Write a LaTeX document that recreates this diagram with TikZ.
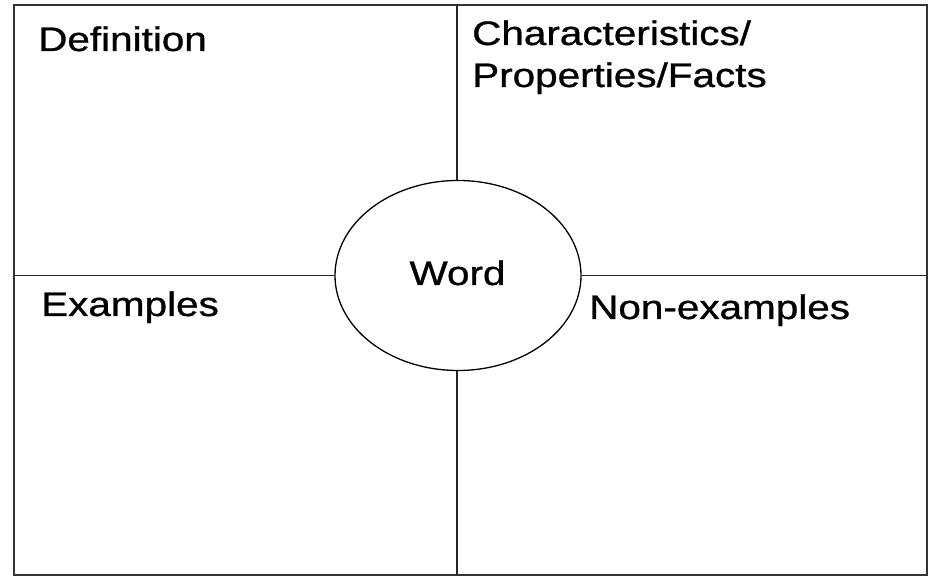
\documentclass[tikz,border=0pt]{standalone}
\usepackage{fontspec}
\setmainfont{Liberation Sans}
\newfontfamily\heavyfont[FakeBold=0.8]{Liberation Sans}
\usetikzlibrary{shapes.geometric}
\tikzset{
  lbl/.style={inner sep=0pt, anchor=base west, font=\heavyfont\fontsize{34}{42}\selectfont},
  frameline/.style={line width=2.6pt, draw=black!80},
  divline/.style={line width=1.8pt, draw=black!85},
  wordoval/.style={ellipse, draw=black, line width=1.3pt, minimum width=246pt, minimum height=190pt, inner sep=0pt, fill=white}
}
\newcommand{\wid}[1]{\scalebox{1.19}[1]{#1}}
\begin{document}
\begin{tikzpicture}[x=1pt,y=1pt]
\useasboundingbox (0,0) rectangle (931,577);
\fill[white] (0,0) rectangle (931,577);
% frame
\draw[frameline] (14,2) rectangle (927,572);
% word oval
\node[wordoval] (word) at (458,301.5) {};
\coordinate (ctop) at (457,572);
\coordinate (cbot) at (457,2);
\coordinate (cleft) at (14,301.5);
\coordinate (cright) at (927,301.5);
\draw[divline] (ctop) -- (ctop |- word.north);
\draw[divline] (cbot |- word.south) -- (cbot);
\draw[divline] (cleft) -- (word.west);
\draw[divline] (word.east) -- (cright);
\node[lbl, anchor=base] (wordtxt) at (457.5,292) {\wid{Word}};
% labels
\node[lbl] (def) at (38,526) {\wid{Definition}};
\node[lbl] (char1) at (472,532) {\wid{Characteristics/}};
\node[lbl] (char2) at (472,490) {\wid{Properties/Facts}};
\node[lbl] (ex) at (41,261) {\wid{Examples}};
\node[lbl] (nonex) at (589,258) {\wid{Non-examples}};
\end{tikzpicture}
\end{document}
